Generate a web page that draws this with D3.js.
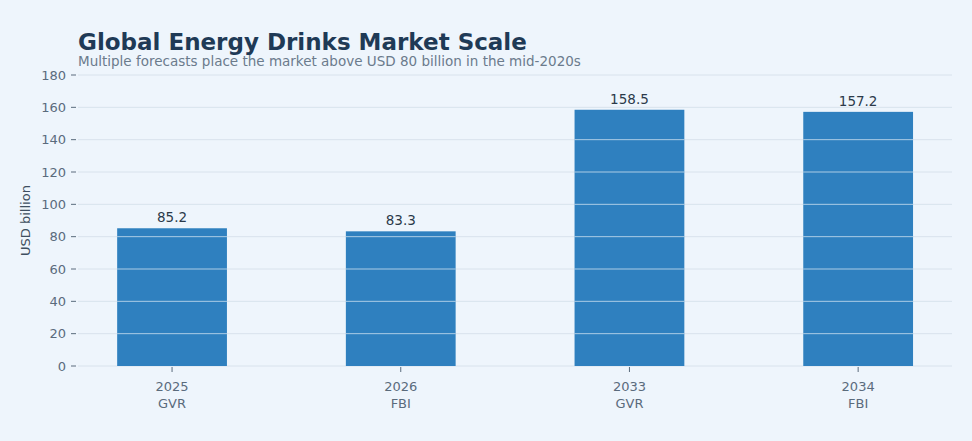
<!DOCTYPE html>
<html lang="en">
<head>
<meta charset="UTF-8">
<script src="https://d3js.org/d3.v7.min.js"></script>
<style>
  body { margin: 0; background: #eef5fc; }
  svg { display: block; font-family: "DejaVu Sans", sans-serif; }
</style>
</head>
<body>
<svg></svg>
<script>
// chart data
const years = ["2025", "2026", "2033", "2034"];
const sources = ["GVR", "FBI", "GVR", "FBI"];
const values = [85.2, 83.3, 158.5, 157.2];
const yTicks = [0, 20, 40, 60, 80, 100, 120, 140, 160, 180];

let width = 972, height = 441;
let svg = d3.select("svg").attr("width", width).attr("height", height);

svg.append("rect").attr("width", width).attr("height", height).attr("fill", "#eef5fc");

let plotLeft = 78, plotRight = 952, plotTop = 75, plotBottom = 366;

let x = d3.scaleBand()
    .domain(d3.range(years.length))
    .range([57.7, 972.5])
    .paddingInner(0.52)
    .paddingOuter(0.26);

let y = d3.scaleLinear().domain([0, 180]).range([plotBottom, plotTop]);

// grid under bars
svg.append("g").selectAll("line")
    .data(yTicks).enter().append("line")
    .attr("x1", plotLeft).attr("x2", plotRight)
    .attr("y1", d => y(d)).attr("y2", d => y(d))
    .attr("stroke", "#d8e2ec").attr("stroke-width", 1);

// bars
let bars = svg.append("g").selectAll("g")
    .data(values).enter().append("g");

bars.append("rect")
    .attr("x", (d, i) => x(i))
    .attr("width", x.bandwidth())
    .attr("y", d => y(d))
    .attr("height", d => plotBottom - y(d))
    .attr("fill", "#2f80bf");

// grid lines showing through the bars
bars.each(function (v, i) {
    d3.select(this).selectAll("line")
        .data(yTicks.filter(t => t > 0 && t < v)).enter().append("line")
        .attr("x1", x(i)).attr("x2", x(i) + x.bandwidth())
        .attr("y1", t => y(t)).attr("y2", t => y(t))
        .attr("stroke", "#ffffff").attr("stroke-opacity", 0.6);
});

// value labels
bars.append("text")
    .attr("x", (d, i) => x(i) + x.bandwidth() / 2)
    .attr("y", d => y(d) - 6)
    .attr("text-anchor", "middle")
    .attr("font-size", 13.5)
    .attr("fill", "#2b3a4a")
    .text(d => d.toFixed(1));

// y axis
let yAxis = svg.append("g").selectAll("g").data(yTicks).enter().append("g");
yAxis.append("line")
    .attr("x1", plotLeft - 7).attr("x2", plotLeft - 2)
    .attr("y1", d => y(d)).attr("y2", d => y(d))
    .attr("stroke", "#5a6b7c");
yAxis.append("text")
    .attr("x", plotLeft - 12).attr("y", d => y(d))
    .attr("dy", "0.35em").attr("text-anchor", "end")
    .attr("font-size", 13).attr("fill", "#5a6b7c")
    .text(d => d);

// x axis
let xAxis = svg.append("g").selectAll("g").data(years).enter().append("g")
    .attr("transform", (d, i) => `translate(${x(i) + x.bandwidth() / 2},0)`);
xAxis.append("line")
    .attr("y1", plotBottom + 1).attr("y2", plotBottom + 6)
    .attr("stroke", "#5a6b7c");
xAxis.append("text")
    .attr("y", plotBottom + 25).attr("text-anchor", "middle")
    .attr("font-size", 13).attr("fill", "#5a6b7c")
    .text(d => d);
xAxis.append("text")
    .attr("y", plotBottom + 42).attr("text-anchor", "middle")
    .attr("font-size", 13).attr("fill", "#5a6b7c")
    .text((d, i) => sources[i]);

// y label
svg.append("text")
    .attr("transform", `translate(30,${(plotTop + plotBottom) / 2}) rotate(-90)`)
    .attr("text-anchor", "middle")
    .attr("font-size", 13).attr("fill", "#3e4f60")
    .text("USD billion");

// titles
svg.append("text")
    .attr("x", plotLeft).attr("y", 50)
    .attr("font-size", 23).attr("font-weight", "bold").attr("fill", "#1f3a56")
    .text("Global Energy Drinks Market Scale");
svg.append("text")
    .attr("x", plotLeft).attr("y", 66)
    .attr("font-size", 13.5).attr("fill", "#6b7b8c")
    .text("Multiple forecasts place the market above USD 80 billion in the mid-2020s");
</script>
</body>
</html>
